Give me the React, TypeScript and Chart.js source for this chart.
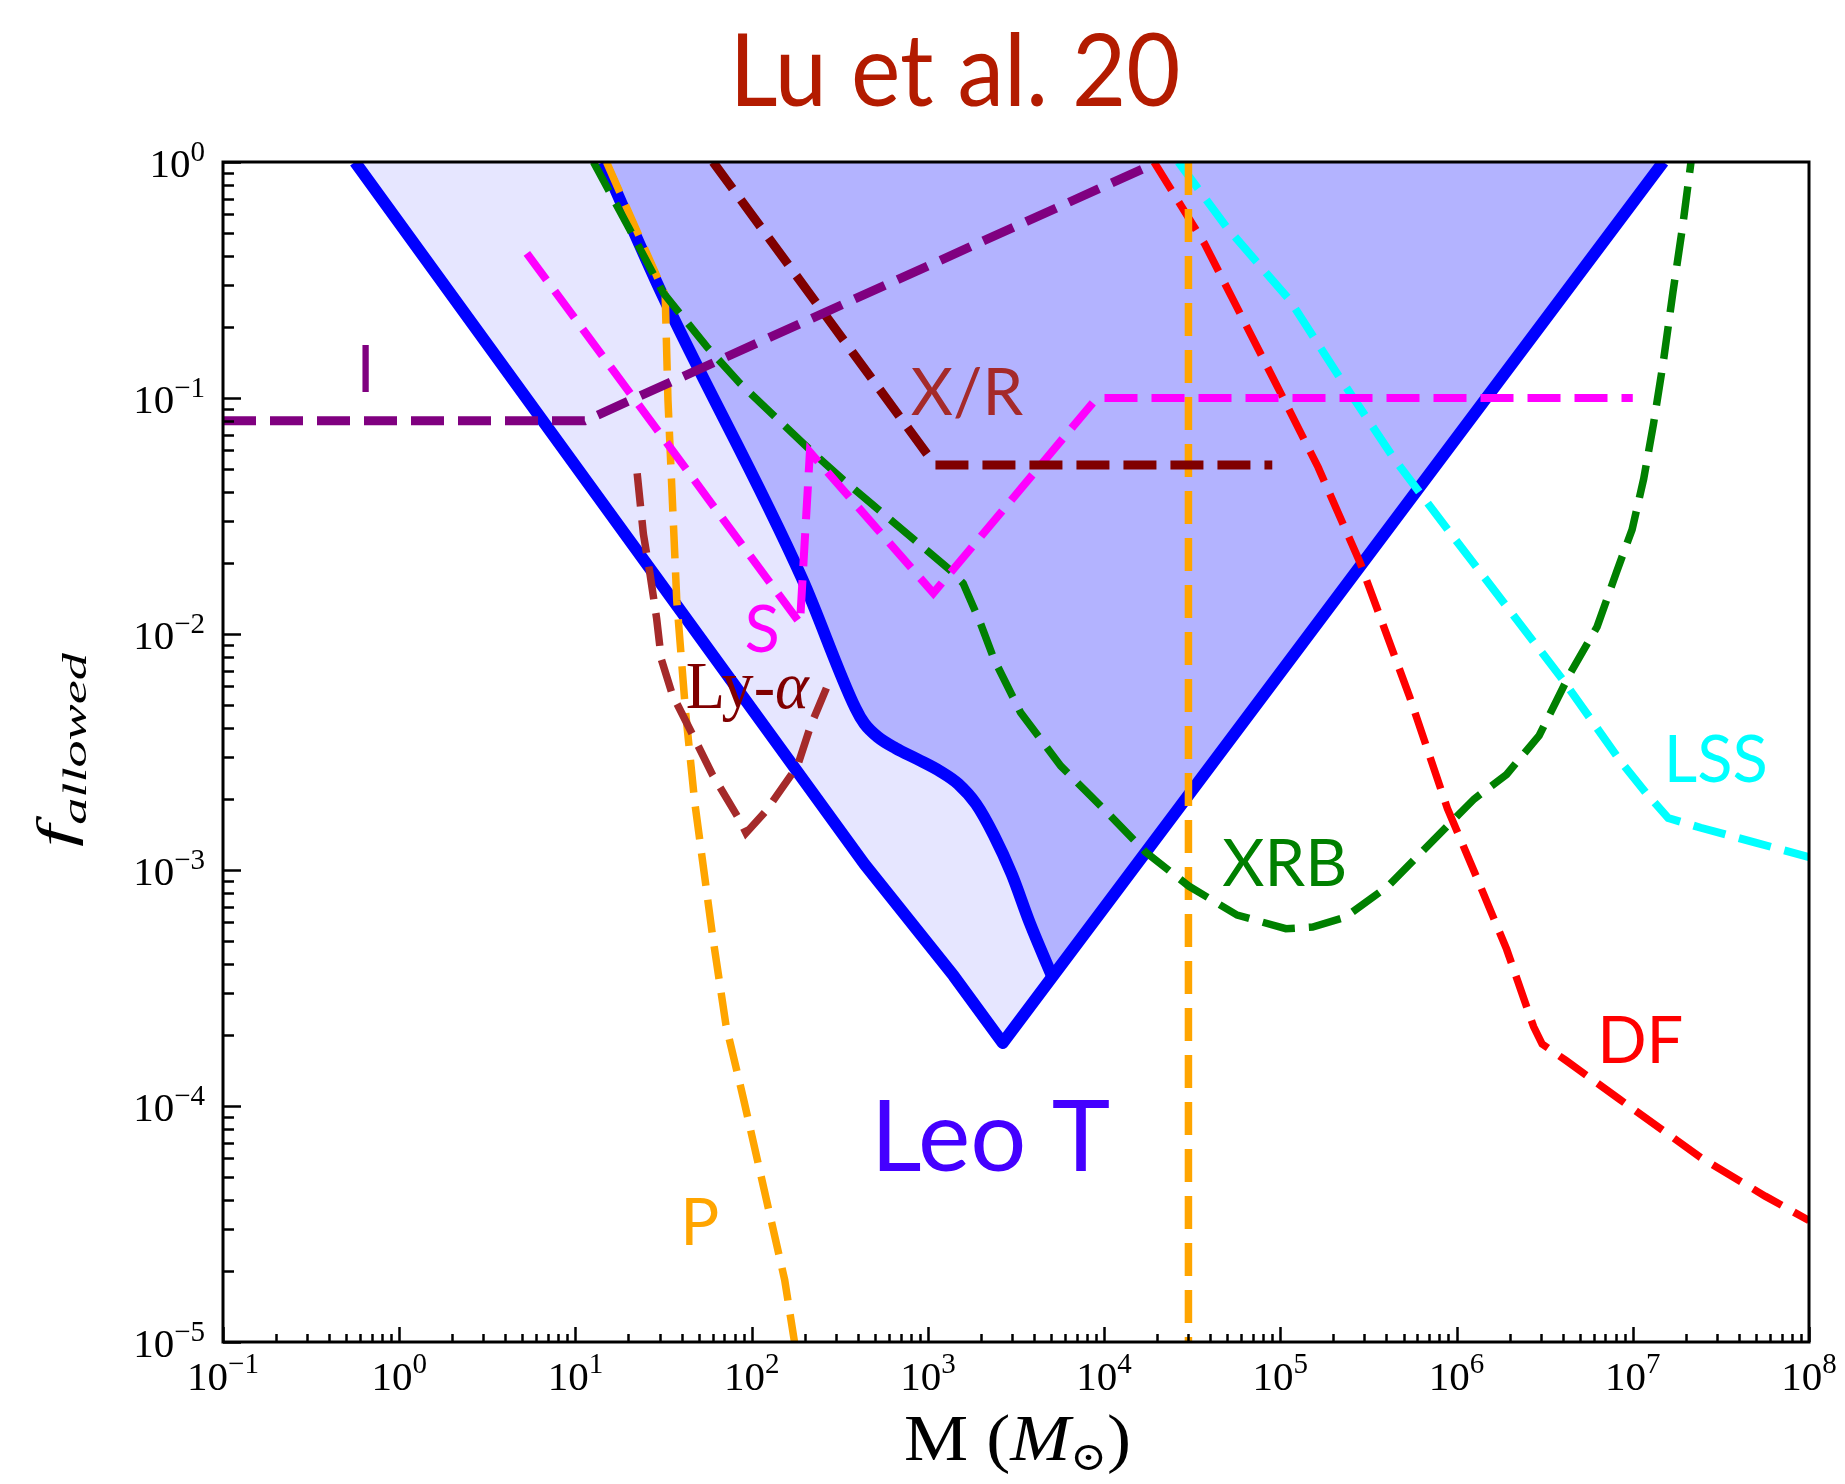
import React, { useEffect, useRef } from 'react';
import { Chart, registerables } from 'chart.js';

Chart.register(...registerables);

// ---------------- data (M in solar masses, f_allowed) ----------------
// Leo T allowed region: outer boundary
const outerM = [0.561, 436, 1400, 2660, 1.49e7];
const outerF = [1, 1.06e-3, 3.56e-4, 1.85e-4, 1];
// Leo T: inner boundary (ends on the right-hand edge of the region)
const innerM = [14.4, 30.1, 193, 388, 436.5, 520, 656, 879, 1175, 1483, 1875, 2371, 2992, 3776, 5058];
const innerF = [1, 0.289, 0.0172, 4.85e-3, 4.17e-3, 3.66e-3, 3.28e-3, 2.94e-3, 2.62e-3, 2.32e-3, 1.905e-3, 1.4e-3, 9.59e-4, 6.0e-4, 3.56e-4];

// I
const iM = [0.1, 11.3, 1.85e4];
const iF = [0.08, 0.08, 0.97];
// X/R
const xrM = [60.4, 1099, 9.0e4];
const xrF = [1, 0.052, 0.052];
// S
const sM = [5.3, 188, 214, 1074, 9100, 1.0e7];
const sF = [0.41, 0.0111, 0.059, 0.0149, 0.1, 0.1];
// P (two parts)
const pM = [15, 32.3, 33.5, 37.6, 42.2, 47.5, 60, 71.5, 90.2, 154, 175];
const pF = [1, 0.273, 0.098, 0.0138, 4.65e-3, 1.94e-3, 5.26e-4, 2.2e-4, 1.06e-4, 1.83e-5, 1e-5];
const p2M = [3.01e4, 3.01e4];
const p2F = [1, 1e-5];
// XRB
const xrbM = [12.65, 20.4, 31.6, 55.6, 85.9, 214, 331, 1337, 1585, 1986, 2371, 3357, 5675, 1.052e4, 1.722e4, 3.02e4, 5.69e4, 1.074e5, 1.524e5, 2.33e5, 4.09e5, 7.18e5, 1.259e6, 1.923e6, 2.94e6, 4.4e6, 6.27e6, 8.07e6, 9.91e6, 1.153e7, 1.309e7, 1.489e7, 1.69e7, 1.919e7, 2.14e7];
const xrbF = [1, 0.515, 0.278, 0.165, 0.1153, 0.0603, 0.045, 0.01866, 0.0164, 0.01112, 7.83e-3, 4.65e-3, 2.76e-3, 1.738e-3, 1.191e-3, 8.55e-4, 6.44e-4, 5.64e-4, 5.73e-4, 6.3e-4, 8.55e-4, 1.309e-3, 2.0e-3, 2.54e-3, 3.71e-3, 6.79e-3, 0.01072, 0.01824, 0.0277, 0.0454, 0.0771, 0.1416, 0.2805, 0.535, 1];
// DF
const dfM = [1.92e4, 3.7e4, 1.052e5, 1.64e5, 2.84e5, 5.42e5, 8.87e5, 1.259e6, 1.923e6, 2.735e6, 3.06e6, 4.17e6, 8.43e6, 2.43e7, 5.64e7, 1e8];
const dfF = [1, 0.453, 0.098, 0.0508, 0.02, 5.41e-3, 1.824e-3, 9.86e-4, 4.62e-4, 2.17e-4, 1.83e-4, 1.56e-4, 1.067e-4, 6.05e-5, 4.15e-5, 3.27e-5];
// LSS
const lssM = [2.64e4, 5.0e4, 1.13e5, 2.18e5, 4.46e5, 9.08e5, 1.945e6, 4.07e6, 8.43e6, 1.202e7, 1.589e7, 2.43e7, 4.91e7, 1e8];
const lssF = [1, 0.525, 0.26, 0.1216, 0.0548, 0.0272, 0.01294, 6.3e-3, 2.92e-3, 2.1e-3, 1.66e-3, 1.51e-3, 1.309e-3, 1.135e-3];
// Ly-alpha
const lyM = [22.4, 24.3, 26.5, 28.9, 30.7, 35.5, 44.9, 60, 85.1, 92.9, 120.8, 182, 216, 265.5];
const lyF = [0.0479, 0.0265, 0.01795, 0.01161, 7.83e-3, 5.53e-3, 3.91e-3, 2.53e-3, 1.637e-3, 1.435e-3, 1.782e-3, 2.76e-3, 4.08e-3, 5.9e-3];

// axis ticks
const xTickExp = [-1, 0, 1, 2, 3, 4, 5, 6, 7, 8];
const yTickExp = [0, -1, -2, -3, -4, -5];

// curve labels
const labelText = ['I', 'X/R', 'S', 'P', 'XRB', 'DF', 'LSS', 'Leo T'];
const labelM = [0.645, 800, 114.6, 39.3, 4.68e4, 6.28e6, 1.5e7, 474];
const labelF = [0.106, 0.0847, 8.39e-3, 2.58e-5, 8.56e-4, 1.52e-4, 2.36e-3, 5.31e-5];
const lyLabelM = 42.3;
const lyLabelF = 4.86e-3;

const titleText = 'Lu et al. 20';

// ---------------- helpers ----------------
const pts = (xs: number[], ys: number[]) => xs.map((x, i) => ({ x, y: ys[i] }));

type Part = { t: string; font: string; dy?: number };

function drawParts(
  ctx: CanvasRenderingContext2D,
  parts: Part[],
  x: number,
  y: number,
  align: number,
  color: string,
  targetW?: number
) {
  ctx.save();
  let w = 0;
  const ws = parts.map((p) => {
    ctx.font = p.font;
    const m = ctx.measureText(p.t).width;
    w += m;
    return m;
  });
  const sx = targetW ? targetW / w : 1;
  ctx.translate(x, y);
  ctx.scale(sx, 1);
  let cx = -w * align;
  ctx.fillStyle = color;
  ctx.textBaseline = 'alphabetic';
  ctx.textAlign = 'left';
  parts.forEach((p, i) => {
    ctx.font = p.font;
    ctx.fillText(p.t, cx, p.dy || 0);
    cx += ws[i];
  });
  ctx.restore();
}

const SERIF = '"Liberation Serif", "Times New Roman", serif';
const SANS = 'Lato, "Open Sans", sans-serif';

const expStr = (e: number) => (e < 0 ? '\u2212' + String(-e) : String(e));

const decorPlugin = {
  id: 'decor',
  afterDraw(chart: any) {
    const ctx: CanvasRenderingContext2D = chart.ctx;
    const xs = chart.scales.x;
    const ys = chart.scales.y;
    const a = chart.chartArea;

    // labels on curves
    const labelColor = ['#800080', '#A52A2A', '#FF00FF', '#FFA500', '#008000', '#FF0000', '#00FFFF', '#4400FF'];
    labelText.forEach((t, i) => {
      const px = xs.getPixelForValue(labelM[i]);
      const py = ys.getPixelForValue(labelF[i]);
      const big = t === 'Leo T';
      const center = t === 'I' || t === 'S';
      drawParts(ctx, [{ t, font: `${big ? 99 : 65}px ${SANS}` }], px, py, center ? 0.5 : 0, labelColor[i]);
    });
    drawParts(
      ctx,
      [
        { t: 'Ly-', font: `68px ${SERIF}` },
        { t: '\u03b1', font: `italic 68px ${SERIF}` },
      ],
      xs.getPixelForValue(lyLabelM),
      ys.getPixelForValue(lyLabelF),
      0,
      '#800000',
      123
    );

    // frame
    ctx.save();
    ctx.strokeStyle = '#000';
    ctx.lineWidth = 3;
    ctx.strokeRect(a.left, a.top, a.right - a.left, a.bottom - a.top);

    // ticks
    ctx.lineWidth = 2.5;
    ctx.beginPath();
    for (let e = -1; e <= 8; e++) {
      for (let k = 1; k <= 9; k++) {
        const v = k * Math.pow(10, e);
        if (v > 1e8 * 1.0001) continue;
        const px = Math.round(xs.getPixelForValue(v)) + 0.5;
        const len = k === 1 ? 15 : 8;
        ctx.moveTo(px, a.bottom);
        ctx.lineTo(px, a.bottom - len);
      }
    }
    for (let e = -5; e <= 0; e++) {
      for (let k = 1; k <= 9; k++) {
        const v = k * Math.pow(10, e);
        if (v > 1.0001) continue;
        const py = Math.round(ys.getPixelForValue(v)) + 0.5;
        const len = k === 1 ? 18 : 11;
        ctx.moveTo(a.left, py);
        ctx.lineTo(a.left + len, py);
      }
    }
    ctx.stroke();
    ctx.restore();

    // tick labels
    xTickExp.forEach((e) => {
      const px = xs.getPixelForValue(Math.pow(10, e));
      drawParts(
        ctx,
        [
          { t: '10', font: `41px ${SERIF}` },
          { t: expStr(e), font: `29px ${SERIF}`, dy: -17 },
        ],
        px,
        1390,
        0.5,
        '#000'
      );
    });
    yTickExp.forEach((e) => {
      const py = ys.getPixelForValue(Math.pow(10, e));
      drawParts(
        ctx,
        [
          { t: '10', font: `41px ${SERIF}` },
          { t: expStr(e), font: `29px ${SERIF}`, dy: -16 },
        ],
        205,
        py + 15,
        1,
        '#000'
      );
    });

    // x-axis label
    drawParts(
      ctx,
      [
        { t: 'M ', font: `66px ${SERIF}` },
        { t: '(', font: `66px ${SERIF}` },
        { t: 'M', font: `italic 66px ${SERIF}` },
        { t: '\u2299', font: `40px "DejaVu Serif", serif`, dy: 10 },
        { t: ')', font: `66px ${SERIF}` },
      ],
      904,
      1460,
      0,
      '#000',
      227
    );

    // y-axis label (rotated)
    ctx.save();
    ctx.translate(72, 750);
    ctx.rotate(-Math.PI / 2);
    drawParts(
      ctx,
      [
        { t: 'f', font: `italic 50px ${SERIF}` },
        { t: 'allowed', font: `italic 34px ${SERIF}`, dy: 14 },
      ],
      0,
      0,
      0.5,
      '#000',
      194
    );
    ctx.restore();

    // title
    drawParts(ctx, [{ t: titleText, font: `101px ${SANS}` }], 955, 106, 0.5, '#B31B00', 451);
  },
};

const DASH = [33, 14];

function dashed(data: { x: number; y: number }[], color: string, width = 8) {
  return {
    data,
    borderColor: color,
    borderWidth: width,
    borderDash: DASH,
    fill: false,
    pointRadius: 0,
    clip: 0,
    order: 10,
  };
}

export default function App() {
  const ref = useRef<HTMLCanvasElement | null>(null);

  useEffect(() => {
    if (!ref.current) return;
    const outer = pts(outerM, outerF);
    const inner = pts(innerM, innerF);
    const innerFill = [...inner, { x: outerM[outerM.length - 1], y: outerF[outerF.length - 1] }];

    const chart = new Chart(ref.current, {
      type: 'line',
      data: {
        datasets: [
          // fills
          { data: outer, borderWidth: 0, borderColor: 'rgba(0,0,0,0)', backgroundColor: '#E6E6FF', fill: 'end', pointRadius: 0, clip: 0, order: 100 },
          { data: innerFill, borderWidth: 0, borderColor: 'rgba(0,0,0,0)', backgroundColor: '#B3B3FF', fill: 'end', pointRadius: 0, clip: 0, order: 90 },
          // blue solid boundaries
          { data: outer, borderColor: '#0000FF', borderWidth: 12, borderJoinStyle: 'round', fill: false, pointRadius: 0, clip: 0, order: 50 },
          { data: inner, borderColor: '#0000FF', borderWidth: 12, borderJoinStyle: 'round', cubicInterpolationMode: 'monotone', fill: false, pointRadius: 0, clip: 0, order: 50 },
          // constraints
          dashed(pts(iM, iF), '#800080', 9),
          dashed(pts(xrM, xrF), '#800000', 9),
          dashed(pts(sM, sF), '#FF00FF', 8),
          dashed(pts(lyM, lyF), '#A52A2A', 7.5),
          dashed(pts(xrbM, xrbF), '#008000', 7.5),
          dashed(pts(pM, pF), '#FFA500', 7.5),
          dashed(pts(p2M, p2F), '#FFA500', 7.5),
          dashed(pts(dfM, dfF), '#FF0000', 7.5),
          dashed(pts(lssM, lssF), '#00FFFF', 8),
        ] as any,
      },
      options: {
        animation: false,
        responsive: false,
        maintainAspectRatio: false,
        devicePixelRatio: 1,
        events: [],
        layout: { padding: { left: 223, top: 162, right: 36, bottom: 142 } },
        elements: { line: { tension: 0 }, point: { radius: 0 } },
        plugins: { legend: { display: false }, tooltip: { enabled: false }, title: { display: false } },
        scales: {
          x: { type: 'logarithmic', min: 0.1, max: 1e8, display: false },
          y: { type: 'logarithmic', min: 1e-5, max: 1, display: false },
        },
      } as any,
      plugins: [decorPlugin],
    });
    return () => chart.destroy();
  }, []);

  return (
    <div style={{ position: 'absolute', left: 0, top: 0, width: 1845, height: 1484, background: '#fff' }}>
      <canvas ref={ref} width={1845} height={1484} style={{ display: 'block', width: 1845, height: 1484 }} />
    </div>
  );
}
